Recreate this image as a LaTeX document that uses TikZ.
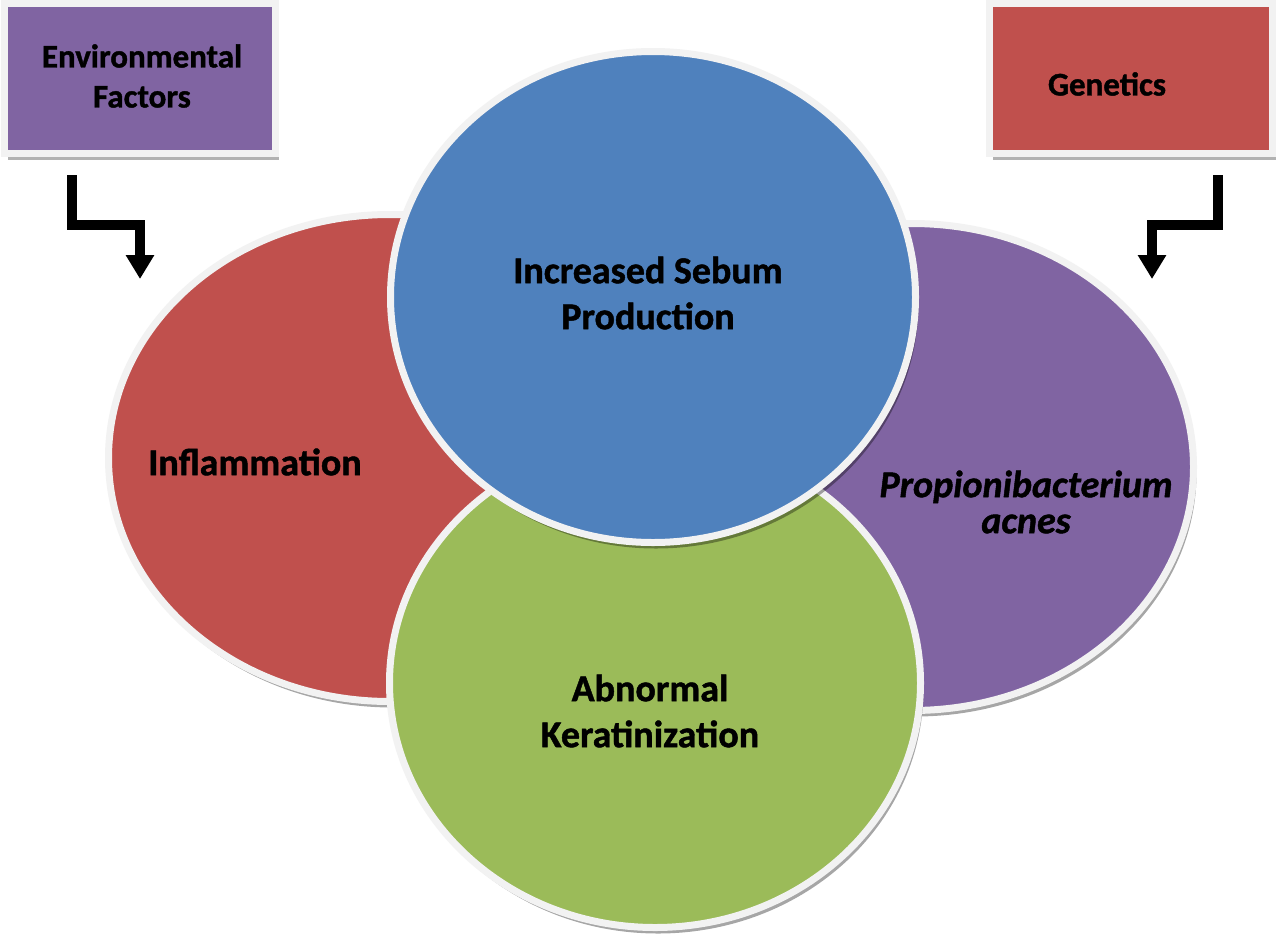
\documentclass[tikz,border=0pt]{standalone}
\usepackage{fontspec}
\setmainfont{Carlito}[BoldFeatures={FakeBold=1.2},BoldItalicFeatures={FakeBold=1.2}]
\usetikzlibrary{shapes.geometric,arrows.meta}
\definecolor{cblue}{HTML}{4F81BD}
\definecolor{cred}{HTML}{C0504D}
\definecolor{cgreen}{HTML}{9BBB59}
\definecolor{cpurple}{HTML}{8064A2}
\definecolor{cborder}{HTML}{F2F2F2}
\tikzset{
  blob/.style={ellipse, draw=cborder, line width=7pt, inner sep=0pt, outer sep=0pt},
  blobshadow/.style={ellipse, fill=black, opacity=0.35, inner sep=0pt, outer sep=0pt, xshift=3pt, yshift=-6pt},
  boxshape/.style={rectangle, draw=cborder, line width=7pt, inner sep=0pt, outer sep=0pt},
  boxshadow/.style={rectangle, fill=black, opacity=0.3, inner sep=0pt, outer sep=0pt, xshift=3pt, yshift=-6pt},
  bigtext/.style={font=\fontsize{38}{46}\selectfont\bfseries, align=center, inner sep=0pt},
  boxtext/.style={font=\fontsize{33}{40}\selectfont\bfseries, align=center, inner sep=0pt},
  elbow/.style={line width=10pt, -{Triangle[width=27pt,length=24pt]}},
}
\begin{document}
\begin{tikzpicture}[x=1pt,y=-1pt]
\useasboundingbox[fill=white] (0,0) rectangle (1280,938);
% boxes
\node[boxshadow, minimum width=271pt, minimum height=150pt] (envs) at (140,78.5) {};
\node[boxshape, fill=cpurple, minimum width=271pt, minimum height=150pt] (env) at (140,78.5) {};
\node[boxtext] (envt) at (142,76) {Environmental\\Factors};
\node[boxshadow, minimum width=283pt, minimum height=150pt] (gens) at (1131,78.5) {};
\node[boxshape, fill=cred, minimum width=283pt, minimum height=150pt] (gen) at (1131,78.5) {};
\node[boxtext] (gent) at (1107,84) {Genetics};
% back ellipses
\node[blobshadow, minimum width=563pt, minimum height=487pt] (reds) at (390,458) {};
\node[blob, fill=cred, minimum width=563pt, minimum height=487pt] (red) at (390,458) {};
\node[blobshadow, minimum width=563pt, minimum height=487pt] (purs) at (912,467) {};
\node[blob, fill=cpurple, minimum width=563pt, minimum height=487pt] (pur) at (912,467) {};
% green
\node[blobshadow, minimum width=531pt, minimum height=489pt] (grns) at (655,683) {};
\node[blob, fill=cgreen, minimum width=531pt, minimum height=489pt] (grn) at (655,683) {};
% blue
\node[blobshadow, minimum width=525pt, minimum height=491pt] (blus) at (653,297) {};
\node[blob, fill=cblue, minimum width=525pt, minimum height=491pt] (blu) at (653,297) {};
% texts
\node[bigtext] (blut) at (648,293) {Increased Sebum\\Production};
\node[bigtext] (redt) at (255,462) {Inflammation};
\node[bigtext] (grnt) at (650,711) {Abnormal\\Keratinization};
\node[font=\fontsize{38}{36}\selectfont\bfseries\itshape, align=center, inner sep=0pt] (purt) at (1026,502) {Propionibacterium\\acnes};
% arrows
\coordinate (a1) at (72,175);
\coordinate (a2) at (72,225);
\coordinate (a3) at (140,225);
\coordinate (a4) at (140,279);
\draw[elbow] (a1) -- (a2) -- (a3) -- (a4);
\coordinate (b1) at (1218,175);
\coordinate (b2) at (1218,225);
\coordinate (b3) at (1152,225);
\coordinate (b4) at (1152,279);
\draw[elbow] (b1) -- (b2) -- (b3) -- (b4);
\end{tikzpicture}
\end{document}
